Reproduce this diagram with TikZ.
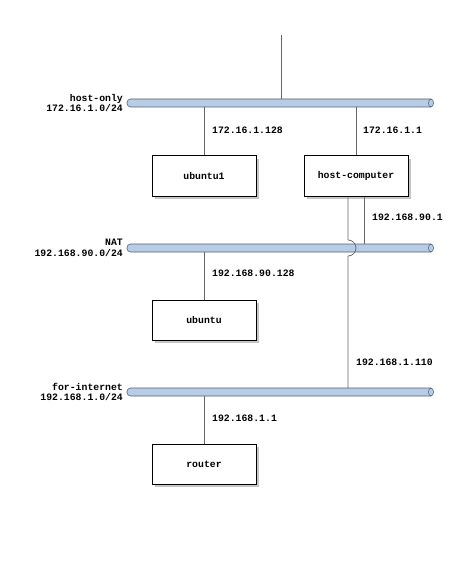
\documentclass[tikz,border=0pt]{standalone}
\usepackage{fontspec}
\setmonofont{Liberation Mono}
\usetikzlibrary{shadows}
\definecolor{busfill}{RGB}{184,204,230}
\definecolor{busline}{RGB}{80,96,120}
\pgfdeclarelayer{bg}
\pgfsetlayers{bg,main}
\tikzset{
  hostbox/.style={draw=black, line width=1pt, fill=white, minimum width=104pt, minimum height=40pt,
    inner sep=0pt, font=\ttfamily\bfseries\fontsize{9.8}{10.5}\selectfont,
    drop shadow={shadow xshift=3pt, shadow yshift=-3pt, opacity=0.45, fill=gray}},
  lab/.style={font=\ttfamily\bfseries\fontsize{9.8}{10.5}\selectfont, inner sep=0pt},
  netlab/.style={lab, anchor=east, align=right},
  wire/.style={draw=black!60, line width=0.7pt},
}
\newcommand{\drawbus}[2]{%
  \fill[busfill, rounded corners=3.5pt] (127,#1-4) rectangle (433,#1+4);
  \draw[busline, line width=0.6pt, rounded corners=3.5pt] (431,#1-4) -- (127,#1-4) -- (127,#1+4) -- (431,#1+4);
  \draw[busline, line width=0.6pt, fill=busfill] (431,#1) ellipse (2.5pt and 4pt);
  \coordinate (#2) at (127,#1);
}
\begin{document}
\begin{tikzpicture}[x=1pt, y=-1pt]
\useasboundingbox (0,0) rectangle (456,588);
\node[hostbox] (ubuntu1) at (204,176) {ubuntu1};
\node[hostbox] (hostc) at (356,176) {host-computer};
\node[hostbox] (ubuntu) at (204,320) {ubuntu};
\node[hostbox] (router) at (204,464) {router};
\coordinate (top) at (281,35);
\coordinate (ho) at (281,99);
\coordinate (b1a) at (204,107);
\coordinate (b1b) at (356,107);
\coordinate (b2a) at (204,252);
\coordinate (b2b) at (364,244);
\coordinate (b3a) at (204,396);
\coordinate (b3b) at (348,388);
\coordinate (j1) at (348,240);
\begin{pgfonlayer}{bg}
\drawbus{103}{hoL}
\drawbus{248}{natL}
\drawbus{392}{fiL}
\draw[wire] (top) -- (ho);
\draw[wire] (b1a) -- (ubuntu1.north);
\draw[wire] (b1b) -- (hostc.north);
\draw[wire] (b2a) -- (ubuntu.north);
\draw[wire] (b3a) -- (router.north);
\draw[wire] (hostc.south -| b2b) -- (b2b);
\draw[wire] (hostc.south -| j1) -- (j1) arc[start angle=90, end angle=-90, radius=8pt] -- (b3b);
\end{pgfonlayer}
% network labels
\node[netlab] (l1) at ([xshift=-4pt]hoL) {host-only\\172.16.1.0/24};
\node[netlab] (l2) at ([xshift=-4pt]natL) {NAT\\192.168.90.0/24};
\node[netlab] (l3) at ([xshift=-4pt]fiL) {for-internet\\192.168.1.0/24};
% address labels
\node[lab, anchor=west] (a1) at (212,130) {172.16.1.128};
\node[lab, anchor=west] (a2) at (363,130) {172.16.1.1};
\node[lab, anchor=west] (a3) at (372,217) {192.168.90.1};
\node[lab, anchor=west] (a4) at (212,273) {192.168.90.128};
\node[lab, anchor=west] (a5) at (356,362) {192.168.1.110};
\node[lab, anchor=west] (a6) at (212,418) {192.168.1.1};
\end{tikzpicture}
\end{document}
